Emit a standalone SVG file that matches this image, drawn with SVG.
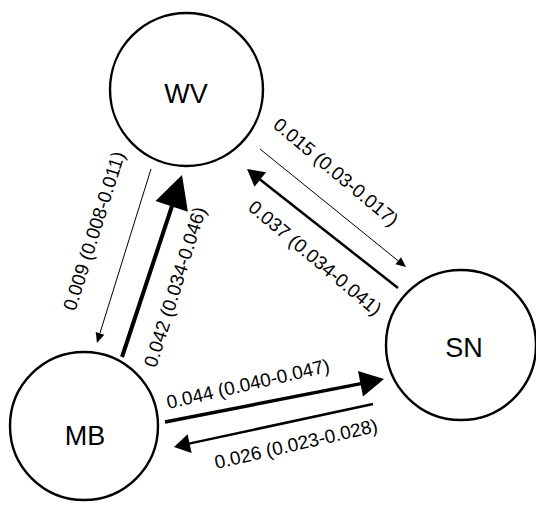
<svg xmlns="http://www.w3.org/2000/svg" width="536" height="507" viewBox="0 0 536 507">
<style>
.node circle{fill:#fff;stroke:#000;stroke-width:2.4}
.node text{font-family:"Liberation Sans",Arial,sans-serif;font-size:27px;text-anchor:middle;fill:#000}
.lbl{font-family:"Liberation Sans",Arial,sans-serif;font-size:19px;text-anchor:middle;dominant-baseline:central;fill:#000}
#connectors line{stroke:#000;fill:none}
#connectors polygon{fill:#000;stroke:none}
</style>
<rect width="536" height="507" fill="#fff"/>
<g id="WV" class="node"><circle cx="186.5" cy="89.5" r="76.5"/><text x="186" y="103">WV</text></g>
<g id="MB" class="node"><circle cx="84" cy="426" r="74"/><text x="85" y="445">MB</text></g>
<g id="SN" class="node"><circle cx="461" cy="345" r="75"/><text x="464" y="357">SN</text></g>
<g id="connectors">
<line x1="122" y1="357" x2="172" y2="206" stroke-width="4"/>
<polygon points="182,175 187.9,211.7 155.5,201.1"/>
<line x1="151" y1="169" x2="100" y2="333" stroke-width="1"/>
<polygon points="97,343 104.3,334.8 95.7,332.1"/>
<line x1="260" y1="149" x2="398" y2="260.7" stroke-width="1"/>
<polygon points="406,267 395.4,264.2 401,257.2"/>
<line x1="398" y1="288" x2="260" y2="179.5" stroke-width="2.5"/>
<polygon points="247,169 266.1,172.2 254.5,186.8"/>
<line x1="165" y1="422" x2="361" y2="383.6" stroke-width="3.5"/>
<polygon points="384,379 363,396.4 358,370.9"/>
<line x1="373" y1="404" x2="189" y2="443.6" stroke-width="2.5"/>
<polygon points="174,447 191.6,452.9 187.6,434.3"/>
</g>
<g id="labels">
<text class="lbl" transform="translate(94,231) rotate(-72.5)">0.009 (0.008-0.011)</text>
<text class="lbl" transform="translate(175,287) rotate(-72.5)">0.042 (0.034-0.046)</text>
<text class="lbl" transform="translate(336,172) rotate(40)">0.015 (0.03-0.017)</text>
<text class="lbl" transform="translate(315,258) rotate(40)">0.037 (0.034-0.041)</text>
<text class="lbl" transform="translate(248,384) rotate(-13)">0.044 (0.040-0.047)</text>
<text class="lbl" transform="translate(296,444) rotate(-13)">0.026 (0.023-0.028)</text>
</g>
</svg>
